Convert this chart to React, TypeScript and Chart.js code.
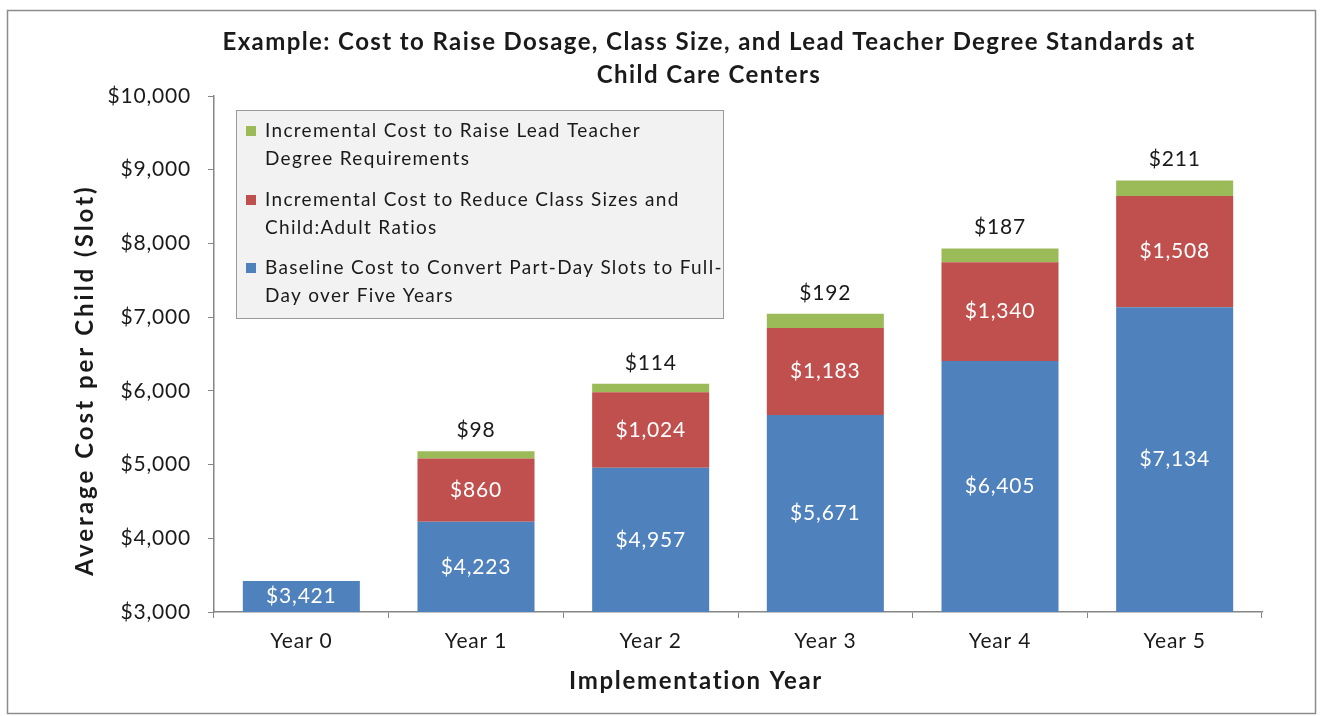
import React, { useEffect, useRef } from "react";
import { Chart, registerables } from "chart.js";

Chart.register(...registerables);

const categories = ["Year 0", "Year 1", "Year 2", "Year 3", "Year 4", "Year 5"];
const baselineCost = [3421, 4223, 4957, 5671, 6405, 7134];
const classSizeCost = [null, 860, 1024, 1183, 1340, 1508];
const teacherDegreeCost = [null, 98, 114, 192, 187, 211];
const yTickValues = [3000, 4000, 5000, 6000, 7000, 8000, 9000, 10000];

const titleLines = [
  "Example: Cost to Raise Dosage, Class Size, and Lead Teacher Degree Standards at",
  "Child Care Centers",
];
const xAxisTitle = "Implementation Year";
const yAxisTitle = "Average Cost per Child (Slot)";

const legendItems = [
  { lines: ["Incremental Cost to Raise Lead Teacher", "Degree Requirements"], color: "#9BBB59" },
  { lines: ["Incremental Cost to Reduce Class Sizes and", "Child:Adult Ratios"], color: "#C0504D" },
  { lines: ["Baseline Cost to Convert Part-Day Slots to Full-", "Day over Five Years"], color: "#4F81BD" },
];

const FONT = "Lato, 'Open Sans', sans-serif";
const fmt = (v: number) => "$" + v.toLocaleString("en-US");

const W = 1327;
const H = 716;

export default function App() {
  const ref = useRef<HTMLCanvasElement | null>(null);

  useEffect(() => {
    const canvas = ref.current;
    if (!canvas) return;

    const framePlugin = {
      id: "frame",
      beforeDraw(chart: any) {
        const ctx = chart.ctx;
        ctx.save();
        ctx.fillStyle = "#ffffff";
        ctx.fillRect(0, 0, W, H);
        ctx.strokeStyle = "#8c8c8c";
        ctx.lineWidth = 1.5;
        ctx.strokeRect(7.5, 10.5, 1308, 703);
        ctx.restore();
        (ctx as any).letterSpacing = "0.8px";
      },
      afterDraw(chart: any) {
        const ctx = chart.ctx;
        const area = chart.chartArea;
        ctx.save();
        ctx.fillStyle = "#1a1a1a";
        ctx.textAlign = "center";
        ctx.textBaseline = "middle";
        ctx.font = `bold 24px ${FONT}`;
        (ctx as any).letterSpacing = "1.4px";
        ctx.fillText(titleLines[0], 709, 42);
        ctx.fillText(titleLines[1], 709, 75);
        (ctx as any).letterSpacing = "1.7px";
        ctx.fillText(xAxisTitle, 696, 681);
        ctx.save();
        (ctx as any).letterSpacing = "3px";
        ctx.translate(85, 380);
        ctx.rotate(-Math.PI / 2);
        ctx.fillText(yAxisTitle, 0, 0);
        ctx.restore();

        // legend box
        const lx = 236, ly = 110, lw = 487, lh = 208;
        ctx.fillStyle = "#f2f2f2";
        ctx.fillRect(lx, ly, lw, lh);
        ctx.strokeStyle = "#9a9a9a";
        ctx.lineWidth = 1;
        ctx.strokeRect(lx + 0.5, ly + 0.5, lw, lh);
        ctx.save();
        ctx.beginPath();
        ctx.rect(lx, ly, lw, lh);
        ctx.clip();
        ctx.font = `19px ${FONT}`;
        (ctx as any).letterSpacing = "1.3px";
        ctx.textAlign = "left";
        const starts = [131, 200, 268];
        legendItems.forEach((it, i) => {
          const y0 = starts[i];
          ctx.fillStyle = it.color;
          ctx.fillRect(246, y0 - 5, 10, 10);
          ctx.fillStyle = "#1a1a1a";
          it.lines.forEach((ln, j) => {
            ctx.fillText(ln, 265, y0 + j * 28);
          });
        });
        ctx.restore();
        ctx.restore();
      },
    };

    const labelPlugin = {
      id: "valueLabels",
      afterDatasetsDraw(chart: any) {
        const ctx = chart.ctx;
        const area = chart.chartArea;
        ctx.save();
        ctx.font = `21px ${FONT}`;
        (ctx as any).letterSpacing = "0.8px";
        ctx.textAlign = "center";
        ctx.textBaseline = "middle";
        chart.data.datasets.forEach((ds: any, di: number) => {
          const meta = chart.getDatasetMeta(di);
          meta.data.forEach((el: any, i: number) => {
            const v = ds.data[i];
            if (v === null || v === undefined) return;
            const p = el.getProps(["x", "y", "base"], true);
            const top = Math.max(Math.min(p.y, p.base), area.top);
            const bot = Math.min(Math.max(p.y, p.base), area.bottom);
            if (di === 2) {
              ctx.fillStyle = "#1a1a1a";
              ctx.fillText(fmt(v), p.x, top - 21);
            } else {
              ctx.fillStyle = "#ffffff";
              ctx.fillText(fmt(v), p.x, (top + bot) / 2);
            }
          });
        });
        ctx.restore();
      },
    };

    const chart = new Chart(canvas, {
      type: "bar",
      data: {
        labels: categories,
        datasets: [
          { label: "Baseline Cost to Convert Part-Day Slots to Full-Day over Five Years", data: baselineCost, backgroundColor: "#4F81BD" },
          { label: "Incremental Cost to Reduce Class Sizes and Child:Adult Ratios", data: classSizeCost, backgroundColor: "#C0504D" },
          { label: "Incremental Cost to Raise Lead Teacher Degree Requirements", data: teacherDegreeCost, backgroundColor: "#9BBB59" },
        ],
      },
      options: {
        responsive: false,
        animation: false,
        maintainAspectRatio: false,
        layout: { padding: { left: 100, top: 96, right: 65, bottom: 54 } },
        datasets: { bar: { barPercentage: 0.67, categoryPercentage: 1 } } as any,
        plugins: {
          legend: { display: false },
          title: { display: false },
          tooltip: { enabled: false },
        },
        scales: {
          x: {
            stacked: true,
            afterFit: (s: any) => { s.height = 50; },
            grid: { drawOnChartArea: false, tickLength: 6, color: "#868686", offset: true },
            border: { color: "#868686", width: 1.5 },
            ticks: { color: "#1a1a1a", font: { family: FONT, size: 21 }, padding: 11 },
          },
          y: {
            stacked: true,
            min: 3000,
            max: 10000,
            afterFit: (s: any) => { s.width = 114; },
            afterBuildTicks: (s: any) => { s.ticks = yTickValues.map((v) => ({ value: v })); },
            grid: { drawOnChartArea: false, tickLength: 6, color: "#868686" },
            border: { color: "#868686", width: 1.5 },
            ticks: { color: "#1a1a1a", font: { family: FONT, size: 21 }, padding: 17, callback: (v: any) => fmt(Number(v)) },
          },
        },
      },
      plugins: [framePlugin, labelPlugin],
    });
    return () => chart.destroy();
  }, []);

  return (
    <div style={{ position: "fixed", left: 0, top: 0, width: W, height: H, background: "#fff" }}>
      <canvas ref={ref} width={W} height={H} style={{ width: W, height: H, display: "block" }} />
    </div>
  );
}
